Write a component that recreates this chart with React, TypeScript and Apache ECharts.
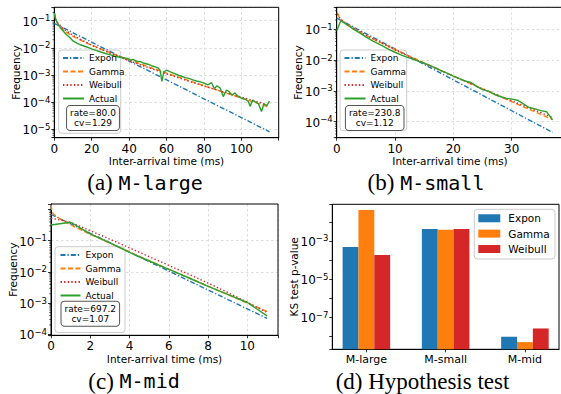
import React, { useEffect, useRef } from 'react';
import * as echarts from 'echarts';

const FONT = 'DejaVu Sans';
const SERIF = 'Liberation Serif';
const MONO = 'DejaVu Sans Mono';
const C_EXP = '#1f77b4';
const C_GAM = '#ff7f0e';
const C_WEI = '#d62728';
const C_ACT = '#2ca02c';

// ---------- (a) M-large ----------
const largeExponT = [0, 20, 40, 60, 80, 100, 115];
const largeExponP = [0.08, 0.0162, 0.00326, 0.00066, 0.000133, 0.000027, 0.0000081];
const largeGammaT = [0.25, 0.5, 1, 2, 3, 5, 7, 10, 15, 20, 30, 40, 50, 60, 70, 80, 90, 100, 115];
const largeGammaP = [0.186, 0.139, 0.103, 0.0745, 0.0604, 0.0448, 0.0356, 0.0267, 0.0179, 0.0125, 0.00659, 0.00363, 0.00205, 0.00118, 0.00069, 0.0004, 0.000237, 0.000141, 0.000065];
const largeWeibullT = [0.25, 0.5, 1, 2, 5, 10, 20, 30, 40, 50, 60, 70, 80, 90, 100, 115];
const largeWeibullP = [0.157, 0.13, 0.104, 0.08, 0.0494, 0.0286, 0.0125, 0.00627, 0.00337, 0.00189, 0.0011, 0.00065, 0.000395, 0.000243, 0.000152, 0.000077];
const largeActualT = [0, 0.5, 1, 2, 3, 4, 5, 6, 8, 10, 12, 14, 17, 20, 23, 26, 30, 33, 36, 39, 41, 42, 44, 46, 48, 50, 52, 54, 55.5, 56.5, 57.5, 58.5, 60, 62, 64, 66, 68, 70, 72, 74, 76, 78, 80, 82, 84, 85.5, 87, 88.5, 90.3, 92, 93.5, 95, 96.5, 98, 100, 102, 103.5, 104.7, 106, 107.5, 109, 110.7, 112, 113.5, 115];
const largeActualP = [0.19, 0.13, 0.1, 0.075, 0.058, 0.047, 0.04, 0.033, 0.025, 0.018, 0.015, 0.013, 0.011, 0.0092, 0.0078, 0.0066, 0.0055, 0.0048, 0.0044, 0.0041, 0.0035, 0.0038, 0.0032, 0.0031, 0.0027, 0.0025, 0.0022, 0.002, 0.0018, 0.0015, 0.00058, 0.0013, 0.0015, 0.0013, 0.00115, 0.001, 0.0009, 0.0008, 0.00075, 0.00066, 0.0006, 0.00056, 0.0005, 0.00043, 0.00052, 0.00032, 0.0004, 0.00034, 0.00016, 0.00028, 0.00024, 0.00018, 0.00022, 0.00017, 0.00014, 0.00013, 0.00011, 0.00007, 0.00012, 0.0001, 0.00009, 0.000045, 0.000085, 0.000075, 0.00011];

// ---------- (b) M-small ----------
const smallExponT = [0, 10, 20, 30, 37];
const smallExponP = [0.2308, 0.02296, 0.002284, 0.000227, 0.0000451];
const smallGammaT = [0.1, 0.5, 1, 2, 5, 10, 15, 20, 25, 30, 35, 37];
const smallGammaP = [0.348, 0.233, 0.185, 0.134, 0.0639, 0.0221, 0.0081, 0.00305, 0.00116, 0.000447, 0.000173, 0.000118];
const smallWeibullT = [0.1, 0.5, 1, 2, 5, 10, 15, 20, 25, 30, 35, 37];
const smallWeibullP = [0.314, 0.235, 0.191, 0.139, 0.0645, 0.0215, 0.0078, 0.003, 0.00118, 0.000476, 0.000196, 0.000138];
const smallActualT = [0, 0.7, 2, 3, 4, 5, 6, 7, 8, 9, 10, 11, 12, 13, 14, 15, 16, 17, 18, 19, 20, 21, 22, 23, 24, 25, 26, 27, 28, 29, 30, 31, 32, 33, 34, 35, 36, 37];
const smallActualP = [0.09, 0.19, 0.13, 0.098, 0.075, 0.057, 0.044, 0.035, 0.028, 0.022, 0.018, 0.0148, 0.0125, 0.0108, 0.0093, 0.0079, 0.0066, 0.0055, 0.0045, 0.0037, 0.003, 0.0025, 0.0021, 0.0019, 0.0014, 0.0011, 0.00098, 0.00078, 0.00066, 0.00058, 0.00054, 0.0005, 0.00038, 0.00029, 0.00026, 0.00023, 0.00021, 0.000115];

// ---------- (c) M-mid ----------
const midExponT = [0, 2, 4, 6, 8, 10, 11];
const midExponP = [0.6972, 0.1729, 0.04288, 0.01063, 0.002637, 0.000654, 0.000326];
const midGammaT = [0.01, 0.05, 0.1, 0.5, 1, 2, 4, 6, 8, 10, 11];
const midGammaP = [1.4, 0.842, 0.748, 0.478, 0.323, 0.161, 0.0436, 0.0123, 0.0035, 0.00101, 0.00054];
const midWeibullT = [0, 0.5, 1, 2, 3, 4, 5, 6, 7, 8, 9, 10, 11];
const midWeibullP = [0.525, 0.457, 0.389, 0.209, 0.112, 0.0589, 0.0309, 0.0162, 0.0085, 0.00437, 0.00219, 0.00107, 0.0005];
const midActualT = [0, 1, 2, 3, 4, 5, 6, 7, 8, 9, 10, 11];
const midActualP = [0.32, 0.39, 0.166, 0.085, 0.042, 0.0224, 0.012, 0.0065, 0.00347, 0.0019, 0.00105, 0.00039];
const midGridDecades = [0.1, 0.01, 0.001, 0.0001];

// ---------- (d) Hypothesis test ----------
const testCategories = ['M-large', 'M-small', 'M-mid'];
const testExpon = [4.9e-4, 4.3e-3, 9.5e-9];
const testGamma = [0.042, 3.85e-3, 5.0e-9];
const testWeibull = [1.86e-4, 4.2e-3, 2.6e-8];

const rateTexts = ['rate=80.0\ncv=1.29', 'rate=230.8\ncv=1.12', 'rate=697.2\ncv=1.07'];

// minor log ticks: multipliers within each decade
const minorMultipliers = [2, 3, 4, 5, 6, 7, 8, 9];
const minorDecades = [-6, -5, -4, -3, -2, -1, 0];

const pts = (t: number[], p: number[]) => t.map((x, i) => [x, p[i]]);

const supRich = {
  b: { fontFamily: FONT, fontSize: 12, lineHeight: 14, verticalAlign: 'bottom', color: '#000' },
  s: { fontFamily: FONT, fontSize: 8.5, lineHeight: 6.5, verticalAlign: 'top', color: '#000' },
};

const logFormatter = (allowed: (e: number) => boolean) => (v: number) => {
  const e = Math.log10(v);
  const r = Math.round(e);
  if (Math.abs(e - r) > 1e-3 || !allowed(r)) return '';
  return `{b|10}{s|${r < 0 ? '\u2212' : ''}${Math.abs(r)}}`;
};

const splitStyle = { show: true, lineStyle: { color: '#d4d4d4', type: [2.5, 2.5], width: 0.8 } };
const axisLineStyle = { show: true, onZero: false, lineStyle: { color: '#000', width: 1 } };
const tickStyle = { show: true, length: 3, lineStyle: { color: '#000', width: 0.8 } };
const nameStyle = { fontFamily: FONT, fontSize: 10.5, color: '#000' };

function xAxisCfg(gridIndex: number, max: number, interval: number) {
  return {
    type: 'value', gridIndex, min: 0, max, interval,
    name: 'Inter-arrival time (ms)', nameLocation: 'middle', nameGap: 18, nameMoveOverlap: false,
    nameTextStyle: nameStyle,
    axisLine: axisLineStyle, axisTick: tickStyle,
    axisLabel: {
      fontFamily: FONT, fontSize: 12, color: '#000', margin: 5,
      formatter: (v: number) => (Math.abs(v / interval - Math.round(v / interval)) < 1e-6 ? String(Math.round(v)) : ''),
    },
    splitLine: splitStyle,
  };
}

function yAxisCfg(gridIndex: number, min: number, max: number, name: string, allowed: (e: number) => boolean, split: boolean, extra: any = {}) {
  return {
    type: 'log', logBase: 10, gridIndex, min, max,
    name, nameLocation: 'middle', nameGap: 33, nameMoveOverlap: false,
    nameTextStyle: nameStyle,
    axisLine: axisLineStyle, axisTick: tickStyle,
    axisLabel: { formatter: logFormatter(allowed), rich: supRich, margin: 4 },
    splitLine: split ? splitStyle : { show: false },
    ...extra,
  };
}

const lineStyles: Record<string, any> = {
  Expon: { color: C_EXP, width: 1.4, type: [5, 2, 1.3, 2] },
  Gamma: { color: C_GAM, width: 1.4, type: [5, 2.5] },
  Weibull: { color: C_WEI, width: 1.4, type: [1.4, 2.2] },
  Actual: { color: C_ACT, width: 1.4, type: 'solid' },
};

function lineSeries(name: string, t: number[], p: number[], gi: number, extra: any = {}) {
  const ls = lineStyles[name];
  return {
    type: 'line', name, xAxisIndex: gi, yAxisIndex: gi,
    data: pts(t, p), symbol: 'none', showSymbol: false, silent: true,
    color: ls.color, itemStyle: { color: ls.color }, lineStyle: ls,
    ...extra,
  };
}

function minorTickSeries(gi: number, xmin: number) {
  const vals: number[] = [];
  minorDecades.forEach((d) => minorMultipliers.forEach((m) => vals.push(m * Math.pow(10, d))));
  return {
    type: 'custom', xAxisIndex: gi, yAxisIndex: gi, silent: true, z: 3,
    data: vals.map((v) => [xmin, v]),
    renderItem: (params: any, api: any) => {
      const v = api.value(1);
      const p = api.coord([xmin, v]);
      const cs = params.coordSys;
      if (p[1] < cs.y - 0.5 || p[1] > cs.y + cs.height + 0.5) return null;
      return {
        type: 'line',
        shape: { x1: cs.x - 1.8, y1: p[1], x2: cs.x, y2: p[1] },
        style: { stroke: '#000', lineWidth: 0.6 },
      };
    },
  };
}

function lineLegend(left: number, top: number, itemWidth: number) {
  return {
    orient: 'vertical', left, top, padding: 0, itemGap: 0,
    itemWidth, itemHeight: 13.5, selectedMode: false,
    itemStyle: { opacity: 0 },
    data: ['Expon', 'Gamma', 'Weibull', 'Actual'],
    textStyle: { fontFamily: FONT, fontSize: 9, color: '#000', lineHeight: 13.5 },
  };
}

function legendFrame(x: number, y: number, w: number, h: number) {
  return {
    type: 'rect', z: 3, shape: { x, y, width: w, height: h, r: 3 },
    style: { fill: 'rgba(255,255,255,0.8)', stroke: '#cccccc', lineWidth: 1 },
  };
}

function axesBox(x: number, y: number, w: number, h: number) {
  return {
    type: 'rect', z: 1, silent: true, shape: { x, y, width: w, height: h },
    style: { fill: 'none', stroke: '#000', lineWidth: 1 },
  };
}

function rateBox(x: number, y: number, text: string) {
  return {
    type: 'text', z: 5, x, y,
    style: {
      text, align: 'center', verticalAlign: 'top', fontFamily: FONT, fontSize: 9, lineHeight: 10,
      fill: '#000', backgroundColor: '#fff', borderColor: '#555', borderWidth: 1, borderRadius: 3,
      padding: [2, 3, 2, 3],
    },
  };
}

function caption(x: number, y: number, tag: string, mono: string) {
  return {
    type: 'text', z: 5, x, y,
    style: {
      text: mono ? `{s|${tag} }{m|${mono}}` : `{s|${tag}}`,
      align: 'center', verticalAlign: 'middle',
      rich: {
        s: { fontFamily: SERIF, fontSize: 23, fill: '#000' },
        m: { fontFamily: MONO, fontSize: 20, fill: '#000' },
      },
    },
  };
}

const GRIDS = [
  { left: 54.3, top: 7.3, width: 224.4, height: 130.4 },
  { left: 336.7, top: 7.3, width: 226.6, height: 130.4 },
  { left: 51, top: 204, width: 227, height: 131.3 },
  { left: 332.3, top: 204.3, width: 226.7, height: 145 },
];

export default function App() {
  const ref = useRef<HTMLDivElement>(null);
  useEffect(() => {
    if (!ref.current) return;
    const chart = echarts.init(ref.current, undefined, { renderer: 'svg' });
    const gridBase = { show: false, containLabel: false, outerBoundsMode: 'none' };
    const option: any = {
      animation: false,
      grid: GRIDS.map((g) => ({ ...gridBase, ...g })),
      xAxis: [
        xAxisCfg(0, 119.9, 20),
        xAxisCfg(1, 38.85, 10),
        xAxisCfg(2, 11.56, 2),
        {
          type: 'value', gridIndex: 3, min: -0.43, max: 2.43, interval: 1,
          axisLine: axisLineStyle, axisTick: { ...tickStyle, customValues: [0, 1, 2] },
          axisLabel: {
            fontFamily: FONT, fontSize: 11, color: '#000', margin: 5, customValues: [0, 1, 2],
            formatter: (v: number) => (Math.abs(v - Math.round(v)) < 1e-6 && testCategories[Math.round(v)]) || '',
          },
          splitLine: { show: false },
        },
      ],
      yAxis: [
        yAxisCfg(0, 4.91e-6, 0.3119, 'Frequency', () => true, true),
        yAxisCfg(1, 3.03e-5, 0.5176, 'Frequency', () => true, true),
        yAxisCfg(2, 9.33e-5, 1.4997, 'Frequency', (e) => e <= -1, false),
        yAxisCfg(3, 2.1e-9, 0.08395, 'KS test p-value', (e) => e === -3 || e === -5 || e === -7, false, { startValue: 2.1e-9 }),
      ],
      legend: [
        lineLegend(62, 51.25, 21),
        lineLegend(343.5, 51.25, 21),
        lineLegend(59.5, 248.25, 20),
        {
          orient: 'vertical', left: 478.3, top: 210.6, padding: 0, itemGap: 0,
          itemWidth: 22, itemHeight: 8, icon: 'rect', selectedMode: false,
          data: ['KS-Expon', 'KS-Gamma', 'KS-Weibull'],
          formatter: (n: string) => n.replace('KS-', ''),
          textStyle: { fontFamily: FONT, fontSize: 10.5, color: '#000', lineHeight: 15.35, padding: [0, 0, 0, 3] },
        },
      ],
      series: [
        lineSeries('Expon', largeExponT, largeExponP, 0),
        lineSeries('Gamma', largeGammaT, largeGammaP, 0),
        lineSeries('Weibull', largeWeibullT, largeWeibullP, 0),
        lineSeries('Actual', largeActualT, largeActualP, 0),
        lineSeries('Expon', smallExponT, smallExponP, 1),
        lineSeries('Gamma', smallGammaT, smallGammaP, 1),
        lineSeries('Weibull', smallWeibullT, smallWeibullP, 1),
        lineSeries('Actual', smallActualT, smallActualP, 1),
        lineSeries('Expon', midExponT, midExponP, 2, {
          markLine: {
            silent: true, symbol: 'none', label: { show: false }, z: 0,
            lineStyle: { color: '#d4d4d4', type: [2.5, 2.5], width: 0.8 },
            data: midGridDecades.map((v) => ({ yAxis: v })),
          },
        }),
        lineSeries('Gamma', midGammaT, midGammaP, 2),
        lineSeries('Weibull', midWeibullT, midWeibullP, 2),
        lineSeries('Actual', midActualT, midActualP, 2),
        ...[['KS-Expon', testExpon, C_EXP], ['KS-Gamma', testGamma, C_GAM], ['KS-Weibull', testWeibull, C_WEI]].map(([name, vals, color]: any) => ({
          type: 'bar', name, xAxisIndex: 3, yAxisIndex: 3, silent: true,
          data: (vals as number[]).map((v, i) => [i, v]),
          barWidth: 15.85, barGap: '0%', itemStyle: { color },
        })),
        minorTickSeries(0, 0),
        minorTickSeries(1, 0),
        minorTickSeries(2, 0),
      ],
      graphic: [
        ...GRIDS.map((g) => axesBox(g.left, g.top, g.width, g.height)),
        legendFrame(58.7, 50, 62, 83.3),
        legendFrame(340, 50, 66.7, 80.7),
        legendFrame(55, 246.7, 70, 85.8),
        legendFrame(474.3, 209.3, 80.7, 49.7),
        rateBox(93, 106, rateTexts[0]),
        rateBox(374.7, 106, rateTexts[1]),
        rateBox(90.3, 301.7, rateTexts[2]),
        caption(145, 182.5, '(a)', 'M-large'),
        caption(426, 182.5, '(b)', 'M-small'),
        caption(134, 381, '(c)', 'M-mid'),
        caption(422.5, 381, '(d) Hypothesis test', ''),
      ],
    };
    chart.setOption(option);
    return () => chart.dispose();
  }, []);
  return <div ref={ref} style={{ position: 'fixed', left: 0, top: 0, width: 561, height: 394, background: '#fff' }} />;
}
